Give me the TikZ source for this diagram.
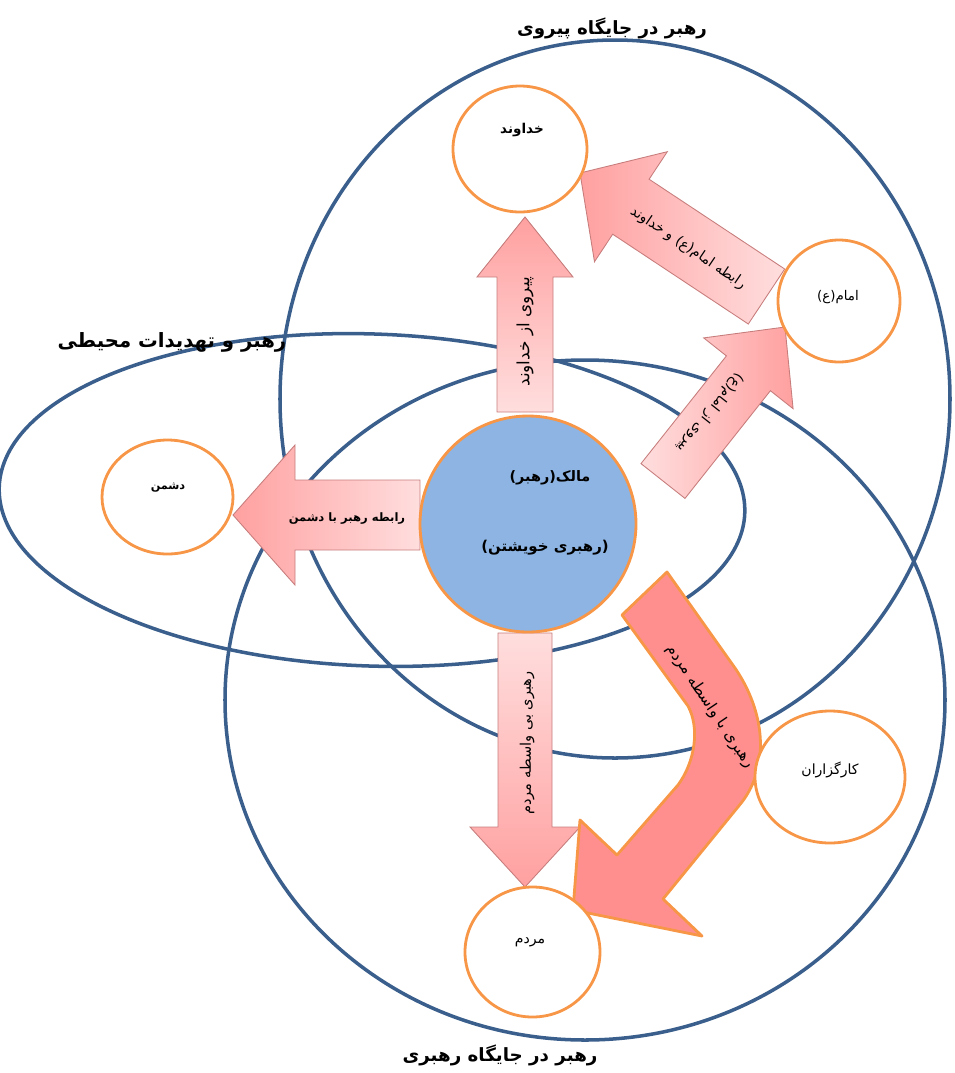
\documentclass[tikz,border=0pt]{standalone}
\usepackage{fontspec}
\TeXXeTstate=1
\newfontfamily\fafont[Script=Arabic]{DejaVu Sans}
\newcommand{\fa}[1]{\fafont\beginR #1\endR}
\usetikzlibrary{shapes.geometric}

\definecolor{ringblue}{RGB}{58,95,140}
\definecolor{ringorange}{RGB}{247,150,70}
\definecolor{selfblue}{RGB}{141,180,226}
\definecolor{pinklight}{RGB}{255,222,222}
\definecolor{pinkdark}{RGB}{255,160,160}
\definecolor{pinkline}{RGB}{200,125,125}
\definecolor{salmon}{RGB}{255,143,143}

\tikzset{
	ring/.style = {draw = ringblue, line width = 2pt},
	member/.style = {draw = ringorange, fill = white, line width = 1.6pt, ellipse, inner sep = 0pt},
	blockarrow/.style = {draw = pinkline, line width = 0.5pt},
	arrowtext/.style = {font = \fontsize{8}{9}\selectfont, inner sep = 0pt},
	membertext/.style = {font = \fontsize{7.6}{9}\selectfont, inner sep = 0pt},
	title/.style = {font = \bfseries\fontsize{10.4}{12}\selectfont, inner sep = 0pt}
}

\begin{document}
\begin{tikzpicture}[x = 0.2mm, y = -0.2mm]
	\useasboundingbox (0, 0) rectangle (955, 1073);

	% three fields
	\draw [ring] (615, 399) ellipse [x radius = 335, y radius = 359];
	\draw [ring, rotate around = {-2:(372, 500)}] (372, 500) ellipse [x radius = 373, y radius = 166];
	\draw [ring] (585, 700) ellipse [x radius = 360, y radius = 340];

	\node [title] (follow) at (612, 28) {\fa{رهبر در جایگاه پیروی}};
	\node [title, font = \bfseries\fontsize{11.2}{13}\selectfont] (threat) at (172, 342) {\fa{رهبر و تهدیدات محیطی}};
	\node [title] (lead) at (500, 1055) {\fa{رهبر در جایگاه رهبری}};

	% up arrow
	\coordinate (u1) at (497, 412);
	\coordinate (u2) at (497, 277);
	\coordinate (u3) at (477, 277);
	\coordinate (u4) at (525, 217);
	\coordinate (u5) at (573, 277);
	\coordinate (u6) at (553, 277);
	\coordinate (u7) at (553, 412);

	% down arrow
	\coordinate (d1) at (498, 633);
	\coordinate (d2) at (552, 633);
	\coordinate (d3) at (552, 827);
	\coordinate (d4) at (580, 827);
	\coordinate (d5) at (525, 887);
	\coordinate (d6) at (470, 827);
	\coordinate (d7) at (498, 827);

	% left arrow
	\coordinate (l1) at (420, 480);
	\coordinate (l2) at (295, 480);
	\coordinate (l3) at (295, 445);
	\coordinate (l4) at (233, 515);
	\coordinate (l5) at (295, 585);
	\coordinate (l6) at (295, 550);
	\coordinate (l7) at (420, 550);

	% arrow to imam
	\coordinate (i1) at (641, 463.6);
	\coordinate (i2) at (726.4, 355.9);
	\coordinate (i3) at (703.7, 337.9);
	\coordinate (i4) at (785, 327);
	\coordinate (i5) at (793.1, 408.7);
	\coordinate (i6) at (770.4, 390.7);
	\coordinate (i7) at (685, 498.4);

	% arrow imam to god
	\coordinate (g1) at (784.7, 269);
	\coordinate (g2) at (649.1, 179.2);
	\coordinate (g3) at (667.3, 151.7);
	\coordinate (g4) at (580, 173);
	\coordinate (g5) at (594.5, 261.7);
	\coordinate (g6) at (612.7, 234.2);
	\coordinate (g7) at (748.3, 324);

	\draw [blockarrow, top color = pinkdark, bottom color = pinklight] (u1) -- (u2) -- (u3) -- (u4) -- (u5) -- (u6) -- (u7) -- cycle;
	\draw [blockarrow, top color = pinklight, bottom color = pinkdark] (d1) -- (d2) -- (d3) -- (d4) -- (d5) -- (d6) -- (d7) -- cycle;
	\draw [blockarrow, left color = pinkdark, right color = pinklight] (l1) -- (l2) -- (l3) -- (l4) -- (l5) -- (l6) -- (l7) -- cycle;
	\draw [blockarrow, left color = pinklight, right color = pinkdark] (i1) -- (i2) -- (i3) -- (i4) -- (i5) -- (i6) -- (i7) -- cycle;
	\draw [blockarrow, left color = pinkdark, right color = pinklight] (g1) -- (g2) -- (g3) -- (g4) -- (g5) -- (g6) -- (g7) -- cycle;

	% bent arrow to people
	\draw [draw = ringorange, line width = 1.6pt, fill = salmon, line join = round]
		(667, 572) -- (735, 668) .. controls (765, 712) and (770, 765) .. (742, 802)
		-- (663, 899) -- (702, 936) -- (573, 910) -- (580, 820) -- (617, 855)
		-- (678, 785) .. controls (695, 762) and (700, 728) .. (688, 706) -- (622, 615) -- cycle;

	\node [arrowtext, font = \fontsize{9.6}{11}\selectfont] (tgod) at (525, 332) [rotate = 90] {\fa{پیروی از خداوند}};
	\node [arrowtext, font = \fontsize{8.3}{10}\selectfont] (tpeople) at (527, 743) [rotate = 90] {\fa{رهبری بی واسطه مردم}};
	\node [arrowtext, font = \bfseries\fontsize{6.6}{8}\selectfont] (tenemy) at (347, 518) {\fa{رابطه رهبر با دشمن}};
	\node [arrowtext] (timam) at (710, 413) [rotate = -128.4] {\fa{پیروی از امام(ع)}};
	\node [arrowtext] (timamgod) at (688, 248) [rotate = -34] {\fa{رابطه امام(ع) و خداوند}};
	\node [arrowtext, font = \fontsize{8.9}{10}\selectfont] (tvia) at (710, 706) [rotate = -56] {\fa{رهبری با واسطه مردم}};

	% members
	\node [member, minimum width = 26.8mm, minimum height = 25.2mm] (god) at (520, 149) {};
	\node [member, minimum width = 24.4mm, minimum height = 24.4mm] (imam) at (839, 301) {};
	\node [member, minimum width = 26.2mm, minimum height = 22.8mm] (enemy) at (167.5, 497) {};
	\node [member, minimum width = 30mm, minimum height = 26.4mm] (agents) at (830, 777) {};
	\node [member, minimum width = 27mm, minimum height = 26mm] (people) at (532.5, 952) {};
	\node [member, fill = selfblue, minimum width = 43.2mm, minimum height = 43.2mm] (self) at (528, 524) {};

	\node [membertext, font = \bfseries\fontsize{7.7}{9}\selectfont] at (522, 130) {\fa{خداوند}};
	\node [membertext] at (838, 297) {\fa{امام(ع)}};
	\node [membertext, font = \bfseries\fontsize{6.4}{8}\selectfont] at (168, 488) {\fa{دشمن}};
	\node [membertext, font = \fontsize{8}{9}\selectfont] at (830, 770) {\fa{کارگزاران}};
	\node [membertext, font = \fontsize{8}{9}\selectfont] at (530, 942) {\fa{مردم}};
	\node [membertext, font = \bfseries\fontsize{8.2}{10}\selectfont] at (550, 478) {\fa{مالک(رهبر)}};
	\node [membertext, font = \bfseries\fontsize{8.5}{10}\selectfont] at (545, 548) {\fa{(رهبری خویشتن)}};
\end{tikzpicture}
\end{document}
